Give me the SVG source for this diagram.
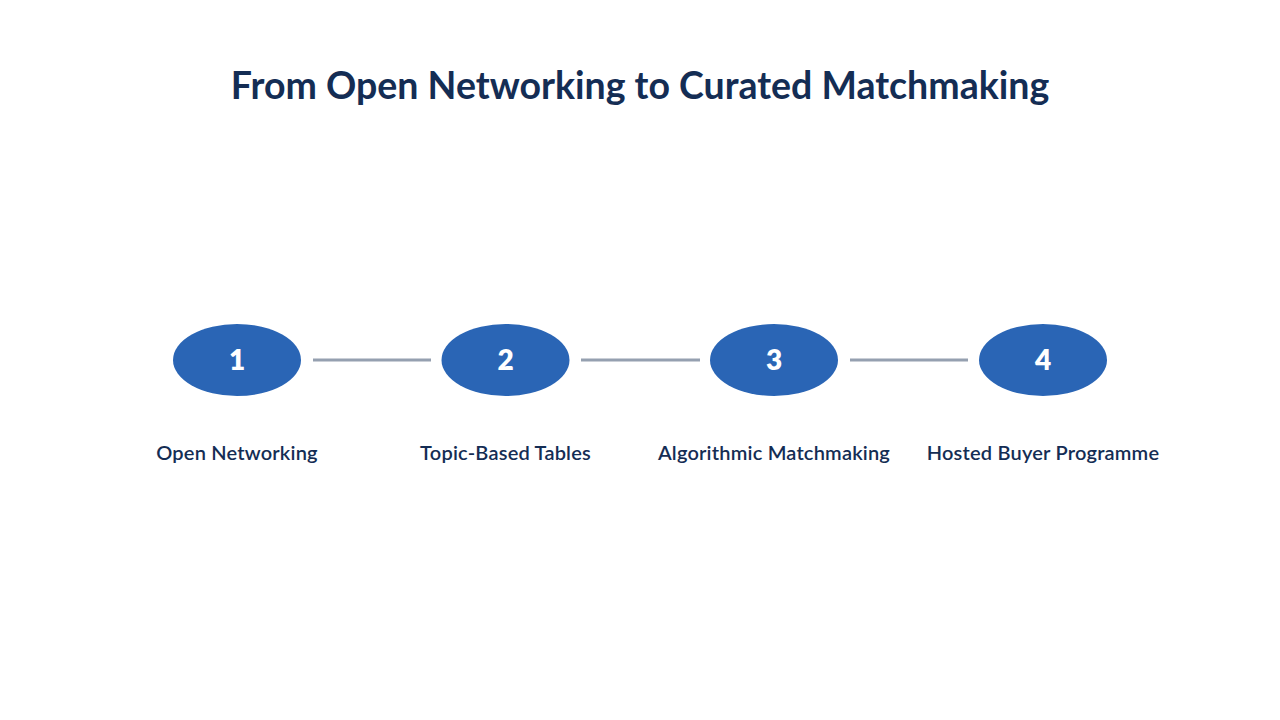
<svg xmlns="http://www.w3.org/2000/svg" width="1280" height="720" viewBox="0 0 1280 720">
<style>
.title{font-family:Lato,"Open Sans",sans-serif;font-weight:700;font-size:37.5px;fill:#142d54;text-anchor:middle}
.node{fill:#2a65b5}
.num{font-family:Lato,"Open Sans",sans-serif;font-weight:800;font-size:28px;fill:#ffffff;text-anchor:middle}
.lbl{font-family:Lato,"Open Sans",sans-serif;font-weight:600;font-size:20px;letter-spacing:0.2px;fill:#142d54;text-anchor:middle}
.conn{stroke:#95a0b0;stroke-width:3;fill:none}
</style>
<rect width="1280" height="720" fill="#ffffff"/>
<text class="title" x="640" y="99">From Open Networking to Curated Matchmaking</text>
<g id="connectors">
<line class="conn" x1="313" y1="360" x2="431" y2="360"/>
<line class="conn" x1="581" y1="360" x2="700" y2="360"/>
<line class="conn" x1="850" y1="360" x2="968" y2="360"/>
</g>
<g id="node1">
<ellipse class="node" cx="237" cy="360" rx="64" ry="36"/>
<text class="num" x="237" y="370">1</text>
<text class="lbl" x="237" y="460">Open Networking</text>
</g>
<g id="node2">
<ellipse class="node" cx="505.5" cy="360" rx="64" ry="36"/>
<text class="num" x="505.5" y="370">2</text>
<text class="lbl" x="505.5" y="460">Topic-Based Tables</text>
</g>
<g id="node3">
<ellipse class="node" cx="774" cy="360" rx="64" ry="36"/>
<text class="num" x="774" y="370">3</text>
<text class="lbl" x="774" y="460">Algorithmic Matchmaking</text>
</g>
<g id="node4">
<ellipse class="node" cx="1043" cy="360" rx="64" ry="36"/>
<text class="num" x="1043" y="370">4</text>
<text class="lbl" x="1043" y="460">Hosted Buyer Programme</text>
</g>
</svg>
